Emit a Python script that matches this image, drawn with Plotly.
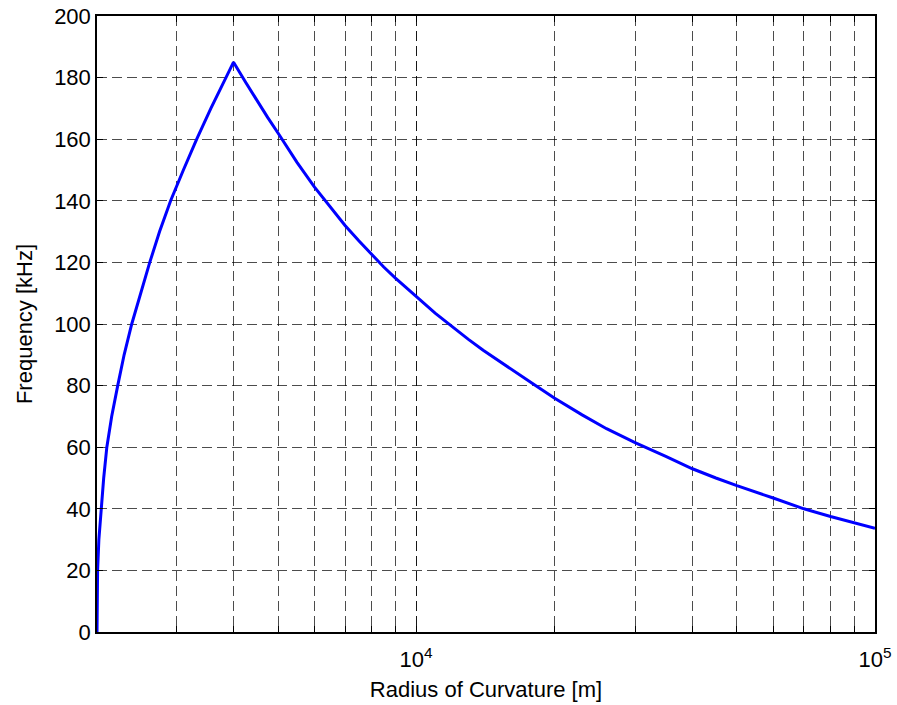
import plotly.graph_objects as go

# Data
radius_m = [2016, 2017, 2022, 2035, 2057, 2085, 2118, 2170, 2237, 2310, 2400, 2510,
            2627, 2760, 2917, 3110, 3325, 3570, 3844, 4000,
            4250, 4500, 4750, 5000, 5500, 6000, 6500, 7000, 7500, 8000, 8500, 9000, 9500,
            10000, 11000, 12000, 13000, 14000, 16000, 18000, 20000, 23000, 26000,
            30000, 35000, 40000, 45000, 50000, 60000, 70000, 80000, 90000, 100000]
freq_khz = [0, 12, 20, 30, 40, 50, 60, 70, 80, 90, 100, 110,
            120, 130, 140, 150, 160, 170, 180, 185,
            178.5, 172.5, 167, 162, 152.5, 144.5, 138, 132, 127, 122.5, 118.5, 115, 112,
            109, 103.5, 99, 95, 91.5, 85.5, 80.5, 76, 70.5, 66,
            61.5, 57, 53, 50, 47.5, 43.5, 40, 37.5, 35.5, 33.7]

x_major_vals = [10000, 100000]
x_major_text = ["10<sup>4</sup>", "10<sup>5</sup>"]
x_minor_vals = [3000, 4000, 5000, 6000, 7000, 8000, 9000, 10000,
                20000, 30000, 40000, 50000, 60000, 70000, 80000, 90000]
y_tick_vals = list(range(0, 201, 20))

FONT = "Liberation Sans, Arial, Helvetica, sans-serif"
GRID = "rgba(0,0,0,0.7)"

fig = go.Figure()
fig.add_trace(go.Scatter(
    x=radius_m, y=freq_khz, mode="lines",
    line=dict(color="#0000FF", width=3),
    showlegend=False, hoverinfo="skip"))

fig.update_layout(
    width=897, height=705,
    margin=dict(l=97, r=22, t=16, b=73, autoexpand=False),
    paper_bgcolor="white", plot_bgcolor="white",
    font=dict(family=FONT, size=22, color="black"),
)
fig.update_xaxes(
    type="log", range=[3.3045, 5.0], automargin=False,
    tickmode="array", tickvals=x_major_vals, ticktext=x_major_text,
    ticks="inside", ticklen=6, tickcolor="black", tickwidth=1,
    ticklabelstandoff=7, ticklabeloverflow="allow",
    minor=dict(tickmode="array", tickvals=x_minor_vals, ticks="inside", ticklen=6,
               tickcolor="black", showgrid=True, gridcolor=GRID, gridwidth=1,
               griddash="10px,5px"),
    showline=True, linecolor="black", linewidth=1.5, mirror="ticks",
    showgrid=True, gridcolor=GRID, gridwidth=1, griddash="10px,5px",
    zeroline=False,
    tickfont=dict(size=22),
    title=dict(text="Radius of Curvature [m]", font=dict(size=22), standoff=10),
)
fig.update_yaxes(
    range=[0, 200], automargin=False,
    tickmode="array", tickvals=y_tick_vals, ticklabeloverflow="allow",
    ticks="inside", ticklen=6, tickcolor="black", tickwidth=1,
    showline=True, linecolor="black", linewidth=1.5, mirror="ticks",
    showgrid=True, gridcolor=GRID, gridwidth=1, griddash="10px,5px",
    zeroline=False,
    tickfont=dict(size=22),
    title=dict(text="Frequency [kHz]", font=dict(size=22), standoff=15),
)

# remove the page's default body margin so the figure fills the window exactly
fig.write_html("out.html", config={"displayModeBar": False},
               post_script="document.body.style.margin='0px';")
